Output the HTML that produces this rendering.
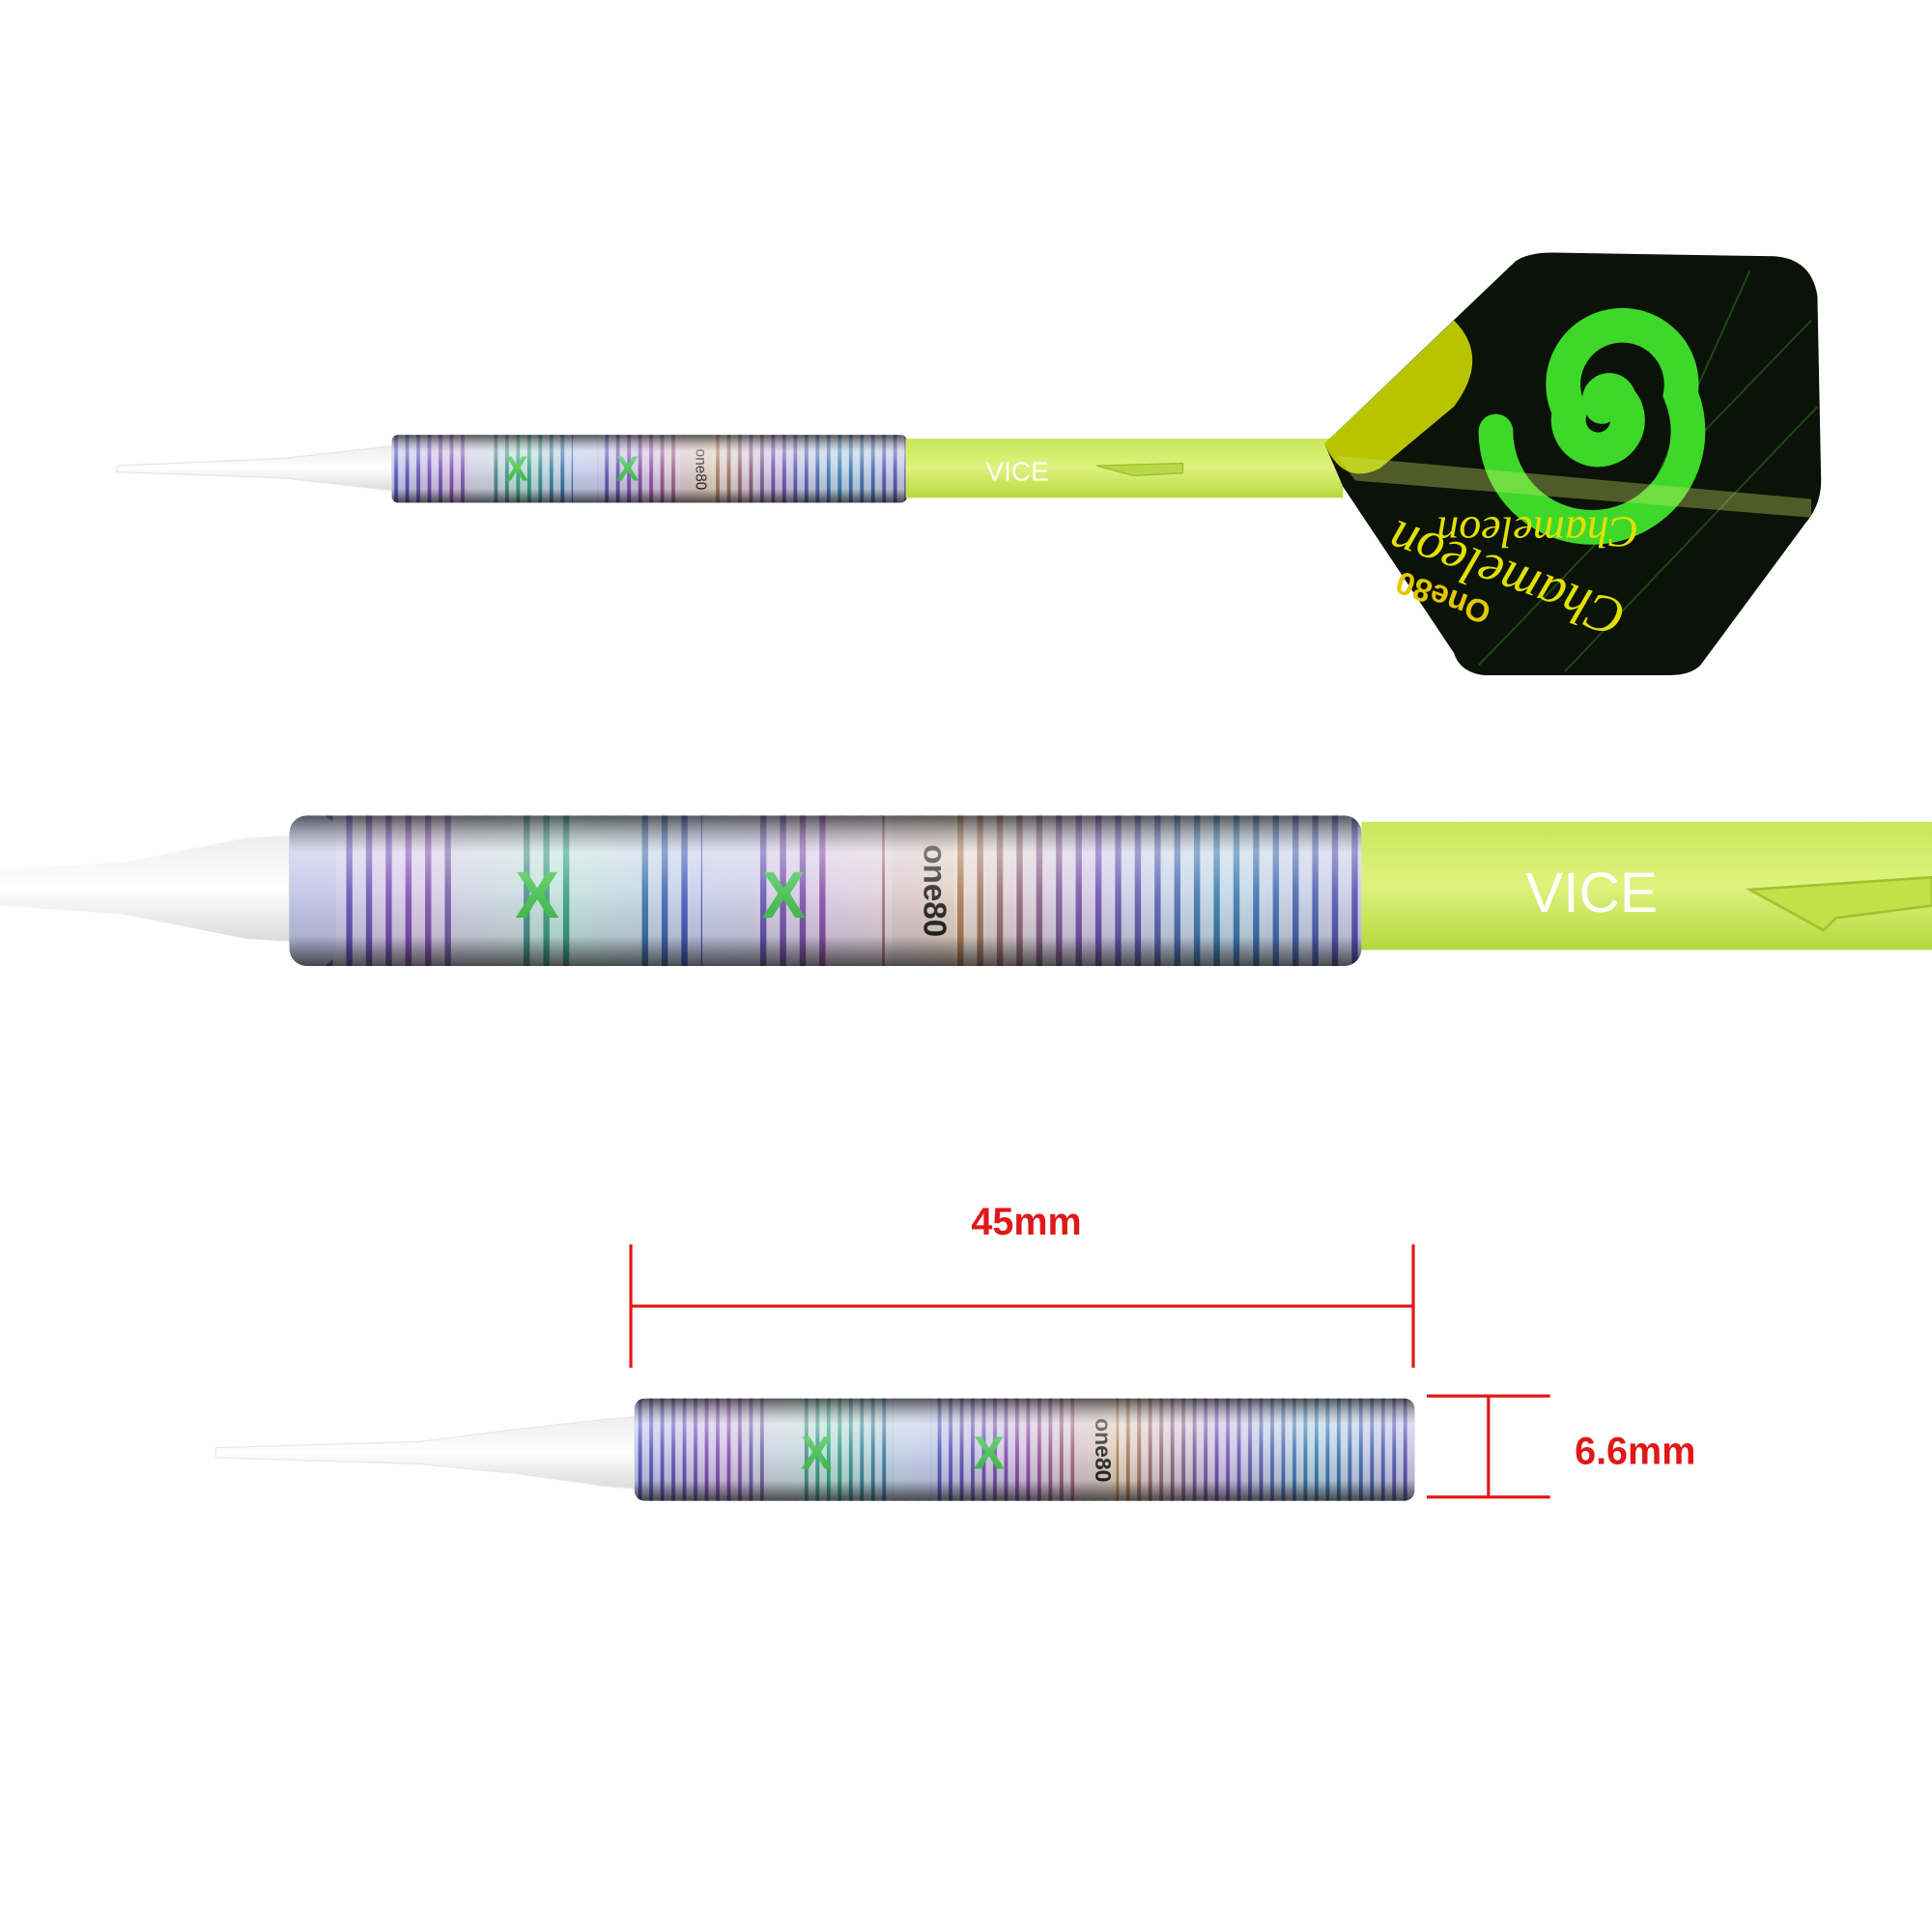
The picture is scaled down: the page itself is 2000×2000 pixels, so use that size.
<!DOCTYPE html>
<html><head><meta charset="utf-8"><style>
html,body{margin:0;padding:0;background:#fff;width:2000px;height:2000px;overflow:hidden}
svg{display:block}
.scr{mix-blend-mode:screen}
</style></head><body>
<svg width="2000" height="2000" viewBox="0 0 1568 1568" xmlns="http://www.w3.org/2000/svg">
<defs>
  <linearGradient id="shade" x1="0" y1="0" x2="0" y2="1">
    <stop offset="0" stop-color="#222" stop-opacity="0.7"/>
    <stop offset="0.25" stop-color="#fff" stop-opacity="0.4"/>
    <stop offset="0.5" stop-color="#fff" stop-opacity="0.12"/>
    <stop offset="0.8" stop-color="#000" stop-opacity="0.1"/>
    <stop offset="1" stop-color="#111" stop-opacity="0.7"/>
  </linearGradient>
  <linearGradient id="rainbowBand" x1="0" y1="0" x2="1" y2="0">
    <stop offset="0" stop-color="#3a4ad0"/><stop offset="0.12" stop-color="#8a3fc0"/>
    <stop offset="0.25" stop-color="#20b080"/><stop offset="0.37" stop-color="#3050d0"/>
    <stop offset="0.5" stop-color="#9040b0"/><stop offset="0.62" stop-color="#c0803a"/>
    <stop offset="0.75" stop-color="#7040c0"/><stop offset="0.87" stop-color="#2080c0"/>
    <stop offset="1" stop-color="#5040c0"/>
  </linearGradient>
  <pattern id="stripeS" patternUnits="userSpaceOnUse" width="9" height="50">
    <rect width="9" height="50" fill="#b4b6ba"/>
    <rect x="5" width="3" height="50" fill="#202028"/>
  </pattern>
  <pattern id="stripeL" patternUnits="userSpaceOnUse" width="16" height="200">
    <rect width="16" height="200" fill="#bcbec2"/>
    <rect x="9" width="5" height="200" fill="#202028"/>
  </pattern>
  <linearGradient id="shaft" x1="0" y1="0" x2="0" y2="1">
    <stop offset="0" stop-color="#c8e85a"/>
    <stop offset="0.5" stop-color="#dff27e"/>
    <stop offset="1" stop-color="#b5d83c"/>
  </linearGradient>
  <linearGradient id="tip" x1="0" y1="0" x2="0" y2="1">
    <stop offset="0" stop-color="#eeeeee"/>
    <stop offset="0.5" stop-color="#ffffff"/>
    <stop offset="1" stop-color="#dcdcdc"/>
  </linearGradient>
</defs>

<!-- TOP DART -->
<path d="M95,378 L230,372 L300,364 L318,362 L318,398 L300,396 L230,388 L95,383 Z" fill="url(#tip)" stroke="#e6e6e6"/>
<g>
<rect x="318" y="353" width="418" height="55" rx="5" fill="url(#stripeS)"/>
<rect x="380" y="353" width="20" height="55" fill="#b8babe"/>
<rect x="465" y="353" width="20" height="55" fill="#b8babe"/>
<rect x="552" y="353" width="26" height="55" fill="#a8aaae"/>
<rect class="scr" x="318" y="353" width="418" height="55" rx="5" fill="url(#rainbowBand)" opacity="0.85"/>
</g>
<text x="565" y="381" font-family="Liberation Sans" font-size="12" fill="#222" text-anchor="middle" transform="rotate(90 565 381)">one80</text>
<text x="410" y="390" font-family="Liberation Sans" font-size="28" font-weight="bold" fill="#3fc04a">X</text>
<text x="500" y="390" font-family="Liberation Sans" font-size="28" font-weight="bold" fill="#3fc04a">X</text>
<rect x="318" y="353" width="418" height="55" rx="5" fill="url(#shade)"/>
<rect x="735" y="356" width="355" height="48" fill="url(#shaft)"/>
<text x="800" y="390" font-family="Liberation Sans" font-size="22" fill="#fff">VICE</text>
<path d="M890,378 L960,376 L960,384 L920,386 Z" fill="#b8d848" stroke="#9cbc30" stroke-width="1"/>
<rect x="1120" y="358" width="18" height="22" fill="#aaa" stroke="#666"/>

<!-- flight -->
<path d="M1075,360 L1230,212 Q1240,205 1260,205 L1440,208 Q1470,210 1475,240 L1478,390 Q1478,410 1465,425 L1380,540 Q1372,548 1355,548 L1205,548 Q1185,546 1180,530 L1090,395 Z" fill="#0b1208"/>
<g stroke="#1f5a1a" stroke-width="1.5" opacity="0.8">
  <line x1="1200" y1="540" x2="1470" y2="260"/>
  <line x1="1270" y1="545" x2="1475" y2="330"/>
  <line x1="1330" y1="420" x2="1420" y2="220"/>
</g>
<path d="M1075,360 L1180,260 Q1210,290 1180,330 L1120,380 Q1090,395 1075,360 Z" fill="#d8e400" opacity="0.85"/>
<g fill="none" stroke="#3ed82a" stroke-linecap="round">
  <path d="M1300,330 m0,0 a8,8 0 1 1 14,-6 a24,24 0 1 1 -40,10 a48,48 0 1 1 90,-14 a78,78 0 1 1 -150,30" stroke-width="28"/>
</g>
<path d="M1085,370 L1470,405 L1470,420 L1100,390 Z" fill="#cfe86a" opacity="0.35"/>
<text x="1350" y="440" font-family="Liberation Serif" font-style="italic" font-size="36" fill="#e2e000" transform="rotate(180 1340 430)">Chameleon</text>
<text x="1320" y="500" font-family="Liberation Serif" font-style="italic" font-size="44" fill="#e2e000" transform="rotate(-160 1320 495)">Chameleon</text>
<text x="1210" y="500" font-family="Liberation Sans" font-weight="bold" font-size="26" fill="#e2c800" transform="rotate(-160 1210 495)">One80</text>

<!-- MIDDLE DART -->
<path d="M0,705 L100,700 L160,688 L200,680 L235,678 L235,764 L200,762 L160,754 L100,742 L0,735 Z" fill="url(#tip)"/>
<g>
<rect x="235" y="662" width="870" height="122" rx="14" fill="url(#stripeL)"/>
<rect x="235" y="662" width="38" height="122" rx="14" fill="#b0b2b6"/>
<rect x="372" y="662" width="46" height="122" fill="#bcbec2"/>
<rect x="470" y="662" width="46" height="122" fill="#bcbec2"/>
<rect x="570" y="662" width="46" height="122" fill="#bcbec2"/>
<rect x="670" y="662" width="46" height="122" fill="#bcbec2"/>
<rect x="724" y="662" width="50" height="122" fill="#aeb0b4"/>
<rect class="scr" x="235" y="662" width="870" height="122" rx="14" fill="url(#rainbowBand)" opacity="0.85"/>
</g>
<text x="750" y="723" font-family="Liberation Sans" font-weight="bold" font-size="26" fill="#222" text-anchor="middle" transform="rotate(90 750 723)">one80</text>
<text x="418" y="745" font-family="Liberation Sans" font-weight="bold" font-size="54" fill="#3fc04a">X</text>
<text x="618" y="745" font-family="Liberation Sans" font-weight="bold" font-size="54" fill="#3fc04a">X</text>
<rect x="235" y="662" width="870" height="122" rx="14" fill="url(#shade)"/>
<rect x="1105" y="667" width="463" height="104" fill="url(#shaft)"/>
<text x="1238" y="740" font-family="Liberation Sans" font-size="46" fill="#fff">VICE</text>
<path d="M1420,722 L1568,712 L1568,735 L1490,745 L1480,755 Z" fill="#c2e048" stroke="#a2c030" stroke-width="2"/>

<!-- DIMENSIONS -->
<text x="833" y="1002" font-family="Liberation Sans" font-weight="bold" font-size="31" fill="#e01818" text-anchor="middle">45mm</text>
<g stroke="#e01818" stroke-width="2.5">
  <line x1="512" y1="1010" x2="512" y2="1110"/>
  <line x1="1147" y1="1010" x2="1147" y2="1110"/>
  <line x1="512" y1="1060" x2="1147" y2="1060"/>
  <line x1="1158" y1="1133" x2="1258" y2="1133"/>
  <line x1="1158" y1="1215" x2="1258" y2="1215"/>
  <line x1="1208" y1="1133" x2="1208" y2="1215"/>
</g>
<text x="1278" y="1188" font-family="Liberation Sans" font-weight="bold" font-size="31" fill="#e01818">6.6mm</text>

<!-- BOTTOM DART -->
<path d="M175,1175 L340,1170 L420,1160 L490,1152 L515,1150 L515,1208 L490,1206 L420,1196 L340,1188 L175,1183 Z" fill="url(#tip)" stroke="#e8e8e8"/>
<g>
<rect x="515" y="1135" width="633" height="83" rx="8" fill="url(#stripeS)"/>
<rect x="620" y="1135" width="30" height="83" fill="#b8babe"/>
<rect x="725" y="1135" width="30" height="83" fill="#b8babe"/>
<rect x="872" y="1135" width="34" height="83" fill="#a8aaae"/>
<rect class="scr" x="515" y="1135" width="633" height="83" rx="8" fill="url(#rainbowBand)" opacity="0.85"/>
</g>
<text x="889" y="1177" font-family="Liberation Sans" font-weight="bold" font-size="18" fill="#222" text-anchor="middle" transform="rotate(90 889 1177)">one80</text>
<text x="650" y="1192" font-family="Liberation Sans" font-weight="bold" font-size="38" fill="#3fc04a">X</text>
<text x="790" y="1192" font-family="Liberation Sans" font-weight="bold" font-size="38" fill="#3fc04a">X</text>
<rect x="515" y="1135" width="633" height="83" rx="8" fill="url(#shade)"/>
</svg>
</body></html>
